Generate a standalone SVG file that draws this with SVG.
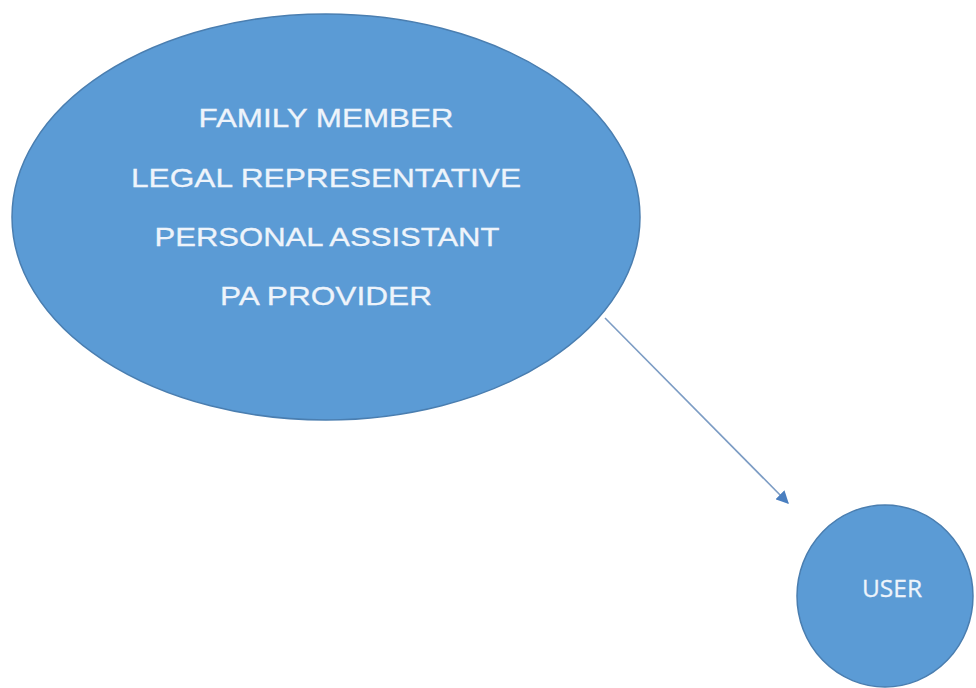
<svg xmlns="http://www.w3.org/2000/svg" width="976" height="688" viewBox="0 0 976 688">
  <style>
    .node { fill: #5b9bd5; stroke: #4a7eb0; stroke-width: 1.5; }
    .roles { font-family: "Liberation Sans", Arial, sans-serif; font-size: 26px; fill: #eef4fb; stroke: #eef4fb; stroke-width: 0.3; text-anchor: middle; }
    .user { font-family: "Open Sans", "Liberation Sans", sans-serif; font-size: 24px; fill: #eef4fb; stroke: #eef4fb; stroke-width: 0.3; text-anchor: middle; }
    .link { stroke: #7c9cc4; stroke-width: 1.6; fill: none; }
  </style>
  <defs>
    <marker id="arrow" viewBox="0 0 10 10" refX="9" refY="5" markerWidth="8" markerHeight="8" orient="auto" markerUnits="strokeWidth">
      <path d="M0,0 L10,5 L0,10 z" fill="#4a7fc0"/>
    </marker>
  </defs>
  <rect width="976" height="688" fill="#ffffff"/>

  <g id="connectors">
    <line class="link" x1="605" y1="318" x2="788" y2="503" marker-end="url(#arrow)"/>
  </g>

  <g id="representatives">
    <ellipse class="node" cx="326" cy="217" rx="314" ry="203"/>
    <text class="roles" x="326" y="127" textLength="255" lengthAdjust="spacingAndGlyphs">FAMILY MEMBER</text>
    <text class="roles" x="326" y="187" textLength="390" lengthAdjust="spacingAndGlyphs">LEGAL REPRESENTATIVE</text>
    <text class="roles" x="327" y="246" textLength="345" lengthAdjust="spacingAndGlyphs">PERSONAL ASSISTANT</text>
    <text class="roles" x="326" y="305" textLength="212" lengthAdjust="spacingAndGlyphs">PA PROVIDER</text>
  </g>

  <g id="user">
    <ellipse class="node" cx="885" cy="596" rx="88" ry="91"/>
    <text class="user" x="892" y="597" textLength="60" lengthAdjust="spacingAndGlyphs">USER</text>
  </g>
</svg>
